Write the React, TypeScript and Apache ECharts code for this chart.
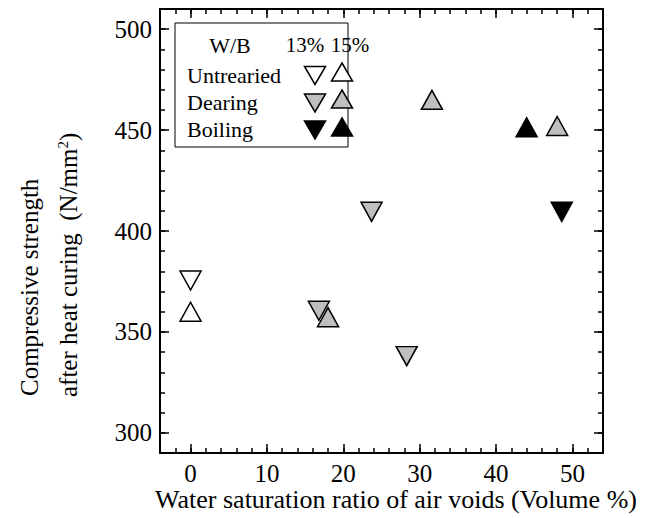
import React, { useEffect, useRef } from "react";
import * as echarts from "echarts";

// ---- data ----
const xMajorTicks = [0, 10, 20, 30, 40, 50];
const xMinorTicks = [-4, -2, 0, 2, 4, 6, 8, 10, 12, 14, 16, 18, 20, 22, 24, 26, 28, 30, 32, 34, 36, 38, 40, 42, 44, 46, 48, 50, 52, 54];
const yMajorTicks = [300, 350, 400, 450, 500];
const yMinorTicks = [290, 300, 310, 320, 330, 340, 350, 360, 370, 380, 390, 400, 410, 420, 430, 440, 450, 460, 470, 480, 490, 500, 510];

const untreated13 = [[0, 375.5]];
const dearing13 = [[16.8, 360.5], [23.7, 409.5], [28.3, 338]];
const boiling13 = [[48.6, 409.5]];
const untreated15 = [[0, 360]];
const dearing15 = [[18.0, 357.3], [31.6, 465], [48.0, 452]];
const boiling15 = [[44.0, 451.4]];

const legendRows = ["Untrearied", "Dearing", "Boiling"];
const legendCols = ["13%", "15%"];
const fills = ["#ffffff", "#bfbfbf", "#000000"];

const FONT = "'Liberation Serif', 'Times New Roman', serif";

function tri(cx: number, cy: number, down: boolean, w = 21, h = 18) {
  return down
    ? [[cx - w / 2, cy - h / 2], [cx + w / 2, cy - h / 2], [cx, cy + h / 2]]
    : [[cx, cy - h / 2], [cx + w / 2, cy + h / 2], [cx - w / 2, cy + h / 2]];
}

export default function App() {
  const ref = useRef<HTMLDivElement>(null);
  useEffect(() => {
    if (!ref.current) return;
    const chart = echarts.init(ref.current, undefined, { renderer: "svg" });
    const rect = { left: 160, right: 51, top: 9, bottom: 65 };
    const axisLineStyle = { color: "#000", width: 2 };
    const tickStyle = { color: "#000", width: 1.5 };
    const xBase = (grid: number, pos: string) => ({
      type: "value",
      gridIndex: grid,
      position: pos,
      min: -4,
      max: 54,
      splitLine: { show: false },
    });
    const yBase = (grid: number, pos: string) => ({
      type: "value",
      gridIndex: grid,
      position: pos,
      min: 290,
      max: 510,
      splitLine: { show: false },
    });
    const labelStyle = { color: "#000", fontFamily: FONT, fontSize: 25, lineHeight: 20 };
    const series: any[] = [];
    const addSeries = (data: number[][], fill: string, down: boolean) => {
      series.push({
        type: "scatter",
        xAxisIndex: 0,
        yAxisIndex: 0,
        data,
        symbol: "triangle",
        symbolSize: [21, 19],
        symbolRotate: down ? 180 : 0,
        itemStyle: { color: fill, borderColor: "#000", borderWidth: 1.5, opacity: 1 },
        emphasis: { disabled: true },
      });
    };
    addSeries(untreated13, fills[0], true);
    addSeries(dearing13, fills[1], true);
    addSeries(boiling13, fills[2], true);
    addSeries(untreated15, fills[0], false);
    addSeries(dearing15, fills[1], false);
    addSeries(boiling15, fills[2], false);

    const rowY = [75, 102.5, 129.5];
    const col13X = 315;
    const col15X = 342;
    const up15Y = [72, 99, 127];
    const txt = (text: string, x: number, y: number, size: number, align: string) => ({
      type: "text",
      x,
      y,
      style: { text, fontSize: size, fontFamily: FONT, fill: "#000", textAlign: align, textVerticalAlign: "middle", lineHeight: size - 4 },
      z: 11,
    });
    const graphic: any[] = [
      {
        type: "rect",
        shape: { x: 175, y: 23, width: 173, height: 124 },
        style: { fill: "none", stroke: "#000", lineWidth: 1 },
        z: 10,
      },
      txt("W/B", 230, 45, 22, "center"),
      txt(legendCols[0], 305, 45, 21, "center"),
      txt(legendCols[1], 350, 45, 21, "center"),
    ];
    legendRows.forEach((name, i) => {
      graphic.push(txt(name, 187, rowY[i], 22, "left"));
      graphic.push({
        type: "polygon",
        shape: { points: tri(col13X, rowY[i] + 0.5, true) },
        style: { fill: fills[i], stroke: "#000", lineWidth: 1.5 },
        z: 11,
      });
      graphic.push({
        type: "polygon",
        shape: { points: tri(col15X, up15Y[i], false) },
        style: { fill: fills[i], stroke: "#000", lineWidth: 1.5 },
        z: 11,
      });
    });
    // axis titles
    graphic.push({
      type: "text",
      x: 396,
      y: 499,
      style: {
        text: "Water saturation ratio of air voids (Volume %)",
        fontSize: 26,
        fontFamily: FONT,
        fill: "#000",
        textAlign: "center",
        textVerticalAlign: "middle",
        lineHeight: 22,
      },
    });
    graphic.push({
      type: "text",
      x: 29,
      y: 396,
      rotation: Math.PI / 2,
      style: {
        text: "Compressive strength",
        fontSize: 25,
        fontFamily: FONT,
        fill: "#000",
        textAlign: "left",
        textVerticalAlign: "middle",
      },
    });
    graphic.push({
      type: "text",
      x: 68,
      y: 397,
      rotation: Math.PI / 2,
      style: {
        text: "after heat curing  (N/mm{sup|2})",
        fontSize: 25,
        fontFamily: FONT,
        fill: "#000",
        textAlign: "left",
        textVerticalAlign: "middle",
        rich: {
          sup: { fontSize: 15, fontFamily: FONT, fill: "#000", verticalAlign: "top", lineHeight: 25 },
        },
      },
    });

    chart.setOption({
      animation: false,
      backgroundColor: "#fff",
      grid: [{ ...rect }, { ...rect }],
      xAxis: [
        {
          ...xBase(0, "bottom"),
          axisLine: { show: true, onZero: false, lineStyle: axisLineStyle },
          axisTick: { show: true, inside: true, length: 9, customValues: xMajorTicks, lineStyle: tickStyle },
          axisLabel: { show: true, customValues: xMajorTicks, margin: 10, ...labelStyle },
        },
        {
          ...xBase(0, "top"),
          axisLine: { show: true, onZero: false, lineStyle: axisLineStyle },
          axisTick: { show: true, inside: true, length: 9, customValues: xMajorTicks, lineStyle: tickStyle },
          axisLabel: { show: false },
        },
        {
          ...xBase(1, "bottom"),
          axisLine: { show: false, onZero: false },
          axisTick: { show: true, inside: true, length: 5, customValues: xMinorTicks, lineStyle: tickStyle },
          axisLabel: { show: false },
        },
        {
          ...xBase(1, "top"),
          axisLine: { show: false, onZero: false },
          axisTick: { show: true, inside: true, length: 5, customValues: xMinorTicks, lineStyle: tickStyle },
          axisLabel: { show: false },
        },
      ],
      yAxis: [
        {
          ...yBase(0, "left"),
          axisLine: { show: true, onZero: false, lineStyle: axisLineStyle },
          axisTick: { show: true, inside: true, length: 9, customValues: yMajorTicks, lineStyle: tickStyle },
          axisLabel: { show: true, customValues: yMajorTicks, margin: 8, ...labelStyle },
        },
        {
          ...yBase(0, "right"),
          axisLine: { show: true, onZero: false, lineStyle: axisLineStyle },
          axisTick: { show: true, inside: true, length: 9, customValues: yMajorTicks, lineStyle: tickStyle },
          axisLabel: { show: false },
        },
        {
          ...yBase(1, "left"),
          axisLine: { show: false, onZero: false },
          axisTick: { show: true, inside: true, length: 5, customValues: yMinorTicks, lineStyle: tickStyle },
          axisLabel: { show: false },
        },
        {
          ...yBase(1, "right"),
          axisLine: { show: false, onZero: false },
          axisTick: { show: true, inside: true, length: 5, customValues: yMinorTicks, lineStyle: tickStyle },
          axisLabel: { show: false },
        },
      ],
      series,
      graphic,
    });
    return () => chart.dispose();
  }, []);
  return <div ref={ref} style={{ width: 654, height: 518, position: "absolute", left: 0, top: 0 }} />;
}
